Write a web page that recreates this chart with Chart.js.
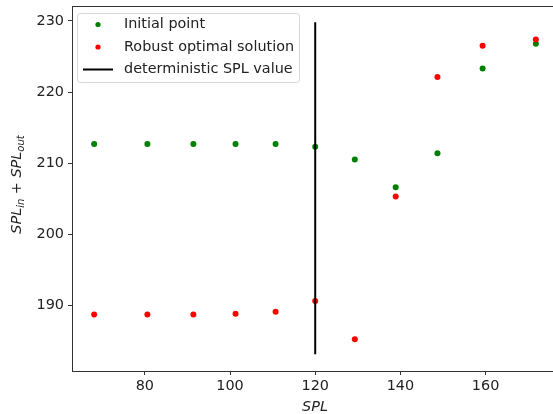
<!DOCTYPE html>
<html>
<head>
<meta charset="utf-8">
<script src="https://cdn.jsdelivr.net/npm/chart.js@4"></script>
<style>
	html, body { margin: 0; padding: 0; background: #fff; overflow: hidden; }
	#wrap { width: 562px; height: 414px; }
</style>
</head>
<body>
<div id="wrap"><canvas id="myChart"></canvas></div>
<script>
// SPL values (x) and the two objective values
const splValues = [68.1, 80.6, 91.4, 101.3, 110.7, 120, 129.3, 138.9, 148.7, 159.3, 171.8];
const initialPoint = [212.7, 212.7, 212.7, 212.7, 212.7, 212.3, 210.5, 206.6, 211.4, 223.3, 226.8];
const robustSolution = [188.7, 188.7, 188.7, 188.8, 189.1, 190.6, 185.2, 205.3, 222.1, 226.5, 227.4];

// deterministic SPL value, vertical line
const deterministicSpl = 120;
const lineRange = [229.8, 183.1];

const xTicks = [80, 100, 120, 140, 160];
const yTicks = [190, 200, 210, 220, 230];

const labels = ['Initial point', 'Robust optimal solution', 'deterministic SPL value'];
const colors = ['green', '#ff0000', '#000000'];

const font = 'DejaVu Sans';
const fontSize = 14.4;

function toPoints(xs, ys) {
	return xs.map((x, i) => ({ x: x, y: ys[i] }));
}

// y axis title with subscripts: SPL_in + SPL_out
const yTitlePlugin = {
	id: 'yTitle',
	afterDraw(chart) {
		const ctx = chart.ctx;
		const area = chart.chartArea;
		const parts = [
			{ t: 'SPL', italic: true, sub: false },
			{ t: 'in', italic: true, sub: true },
			{ t: ' + ', italic: false, sub: false },
			{ t: 'SPL', italic: true, sub: false },
			{ t: 'out', italic: true, sub: true },
		];
		const fontFor = (p) => (p.italic ? 'italic ' : '') + (p.sub ? '10px ' : fontSize + 'px ') + font;
		let total = 0;
		parts.forEach((p) => {
			ctx.font = fontFor(p);
			p.w = ctx.measureText(p.t).width;
			total += p.w;
		});
		ctx.save();
		ctx.translate(17, (area.top + area.bottom) / 2 - 4);
		ctx.rotate(-Math.PI / 2);
		ctx.fillStyle = '#222';
		ctx.textBaseline = 'middle';
		ctx.textAlign = 'left';
		let x = -total / 2;
		parts.forEach((p) => {
			ctx.font = fontFor(p);
			ctx.fillText(p.t, x, p.sub ? 4 : 0);
			x += p.w;
		});
		ctx.restore();
	},
};

// top spine + matplotlib style legend box
const framePlugin = {
	id: 'frame',
	afterDraw(chart) {
		const ctx = chart.ctx;
		const area = chart.chartArea;
		ctx.save();
		ctx.strokeStyle = '#333';
		ctx.lineWidth = 1;
		ctx.beginPath();
		ctx.moveTo(area.left, area.top + 0.5);
		ctx.lineTo(area.right, area.top + 0.5);
		ctx.stroke();

		// legend
		const bx = area.left + 5, by = area.top + 7, bw = 222, bh = 69;
		ctx.fillStyle = 'rgba(255,255,255,0.85)';
		ctx.strokeStyle = '#d6d6d6';
		ctx.beginPath();
		ctx.roundRect(bx + 0.5, by + 0.5, bw, bh, 3);
		ctx.fill();
		ctx.stroke();

		ctx.font = fontSize + 'px ' + font;
		ctx.textBaseline = 'middle';
		ctx.textAlign = 'left';
		labels.forEach((label, i) => {
			const cy = by + 11.5 + i * 22.5;
			if (i < 2) {
				ctx.fillStyle = colors[i];
				ctx.beginPath();
				ctx.arc(bx + 21, cy, 2.6, 0, Math.PI * 2);
				ctx.fill();
			} else {
				ctx.strokeStyle = colors[i];
				ctx.lineWidth = 2;
				ctx.beginPath();
				ctx.moveTo(bx + 6, cy);
				ctx.lineTo(bx + 36, cy);
				ctx.stroke();
			}
			ctx.fillStyle = '#222';
			ctx.fillText(label, bx + 47, cy);
		});
		ctx.restore();
	},
};

const myChart = document.getElementById('myChart').getContext('2d');

const chart = new Chart(myChart, {
	type: 'scatter',
	data: {
		datasets: [
			{
				label: labels[0],
				data: toPoints(splValues, initialPoint),
				backgroundColor: colors[0],
				borderWidth: 0,
				pointRadius: 3,
				order: 3,
			},
			{
				label: labels[1],
				data: toPoints(splValues, robustSolution),
				backgroundColor: colors[1],
				borderWidth: 0,
				pointRadius: 3,
				order: 2,
			},
			{
				label: labels[2],
				type: 'line',
				data: lineRange.map((y) => ({ x: deterministicSpl, y: y })),
				borderColor: colors[2],
				borderWidth: 2,
				pointRadius: 0,
				showLine: true,
				order: 1,
			},
		],
	},
	options: {
		responsive: true,
		maintainAspectRatio: false,
		animation: false,
		events: [],
		layout: {
			padding: { left: 0, right: 2, top: 6, bottom: 0 },
		},
		plugins: {
			legend: { display: false },
			tooltip: { enabled: false },
		},
		scales: {
			x: {
				type: 'linear',
				min: 62.9,
				max: 177,
				afterBuildTicks: (scale) => {
					scale.ticks = xTicks.map((v) => ({ value: v }));
				},
				afterFit: (scale) => {
					scale.height = 43;
					scale.paddingLeft = 0;
					scale.paddingRight = 0;
				},
				grid: {
					drawOnChartArea: false,
					drawTicks: true,
					tickLength: 4,
					tickColor: '#333',
				},
				border: { color: '#333', width: 1 },
				ticks: {
					color: '#222',
					font: { family: font, size: fontSize },
					padding: 3,
					maxRotation: 0,
				},
				title: {
					display: true,
					text: 'SPL',
					color: '#222',
					font: { family: font, size: fontSize, style: 'italic' },
					padding: { top: 0, bottom: -2 },
				},
			},
			y: {
				type: 'linear',
				min: 180.75,
				max: 232.1,
				afterBuildTicks: (scale) => {
					scale.ticks = yTicks.map((v) => ({ value: v }));
				},
				afterFit: (scale) => {
					scale.width = 72;
					scale.paddingTop = 0;
					scale.paddingBottom = 0;
				},
				grid: {
					drawOnChartArea: false,
					drawTicks: true,
					tickLength: 4,
					tickColor: '#333',
				},
				border: { color: '#333', width: 1 },
				ticks: {
					color: '#222',
					font: { family: font, size: fontSize },
					padding: 4,
				},
			},
		},
	},
	plugins: [yTitlePlugin, framePlugin],
});
</script>
</body>
</html>
